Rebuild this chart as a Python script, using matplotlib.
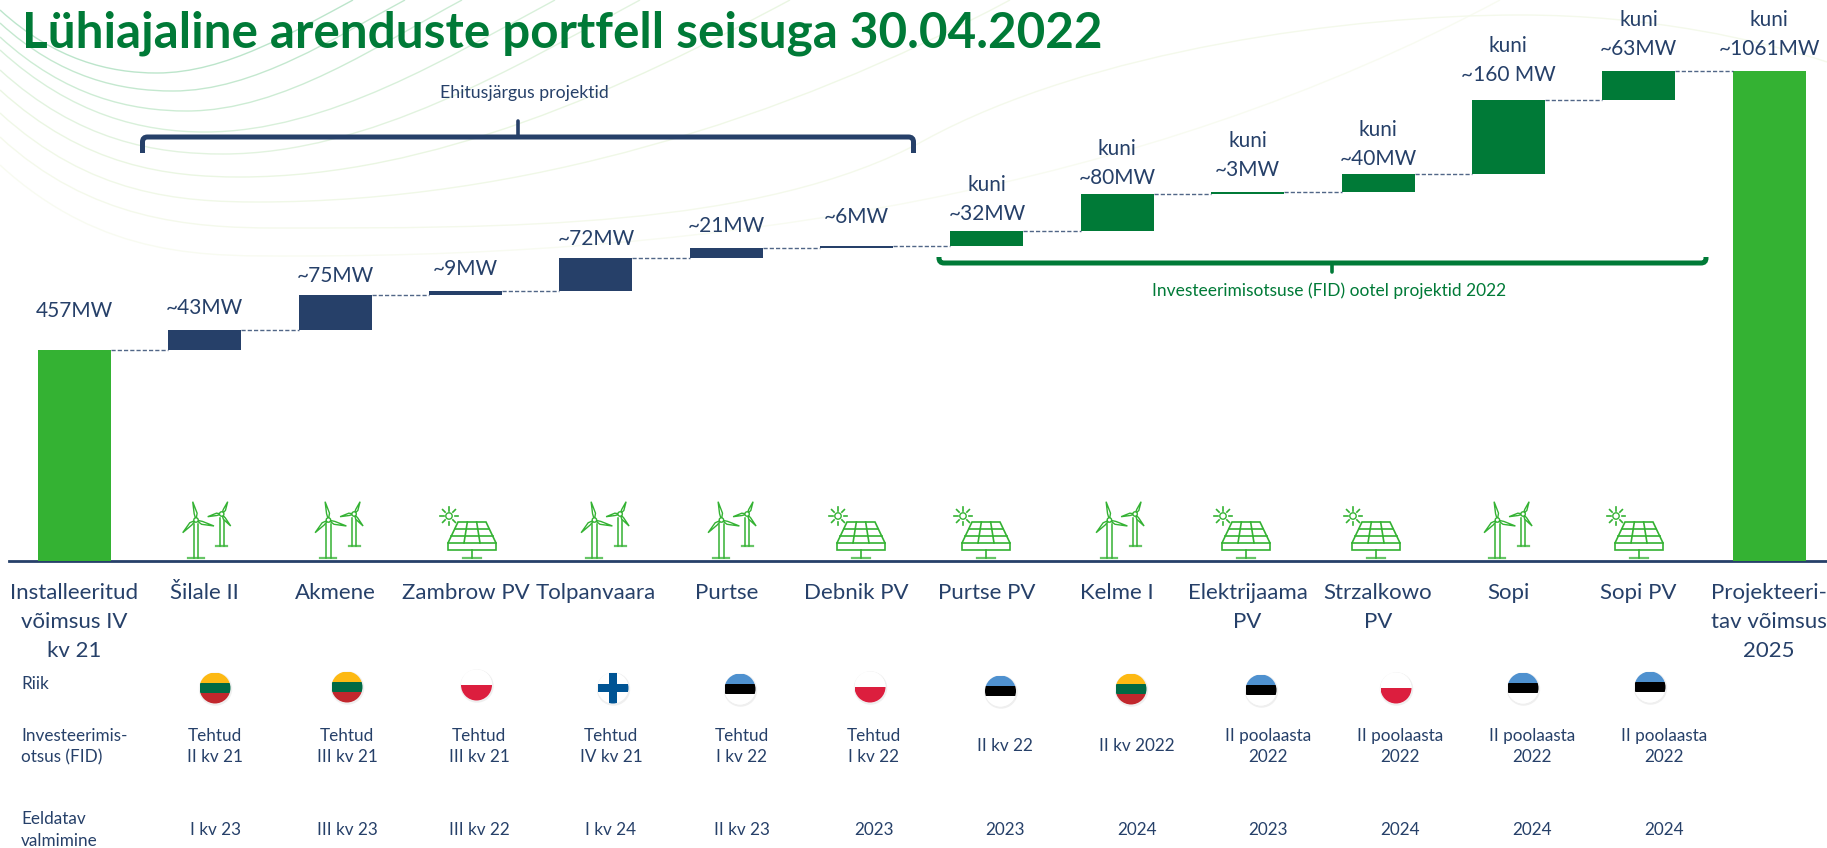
import matplotlib
matplotlib.use('Agg')
import matplotlib.pyplot as plt
from matplotlib.patches import Circle, Polygon, Rectangle, PathPatch
from matplotlib.path import Path
import numpy as np

plt.rcParams['font.family'] = ['Lato', 'DejaVu Sans']

W, H = 1827, 848
NAVY = '#264069'
GREEN = '#34B233'
DARK = '#007A37'

# chart data
names = ['Installeeritud\nvõimsus IV\nkv 21', 'Šilale II', 'Akmene', 'Zambrow PV', 'Tolpanvaara', 'Purtse',
         'Debnik PV', 'Purtse PV', 'Kelme I', 'Elektrijaama\nPV', 'Strzalkowo\nPV', 'Sopi', 'Sopi PV',
         'Projekteeri-\ntav võimsus\n2025']
values = [457, 43, 75, 9, 72, 21, 6, 32, 80, 3, 40, 160, 63, 1061]
labels = ['457MW', '~43MW', '~75MW', '~9MW', '~72MW', '~21MW', '~6MW', 'kuni\n~32MW', 'kuni\n~80MW', 'kuni\n~3MW',
          'kuni\n~40MW', 'kuni\n~160 MW', 'kuni\n~63MW', 'kuni\n~1061MW']
fid = ['Tehtud\nII kv 21', 'Tehtud\nIII kv 21', 'Tehtud\nIII kv 21', 'Tehtud\nIV kv 21', 'Tehtud\nI kv 22',
       'Tehtud\nI kv 22', 'II kv 22', 'II kv 2022', 'II poolaasta\n2022', 'II poolaasta\n2022',
       'II poolaasta\n2022', 'II poolaasta\n2022']
finish = ['I kv 23', 'III kv 23', 'III kv 22', 'I kv 24', 'II kv 23', '2023', '2023', '2024', '2023', '2024',
          '2024', '2024']
countries = ['LT', 'LT', 'PL', 'FI', 'EE', 'PL', 'EE', 'LT', 'EE', 'PL', 'EE', 'EE']
kinds = ['wind', 'wind', 'solar', 'wind', 'wind', 'solar', 'solar', 'wind', 'solar', 'solar', 'wind', 'solar']

# layout, in pixels
label_gap = [39, 22, 19, 22, 19, 22, 29, 17, 16, 22, 15, 25, 22, 22]
icon_x = [196.6, 329, 472, 595, 722, 861, 986, 1110, 1246, 1376, 1498, 1639]
flag_x = [215, 347, 476.5, 613, 740, 870, 1000.5, 1131, 1261, 1396, 1523, 1650]
flag_y = [688, 687, 685, 688, 689, 687, 691, 689, 690, 688, 688, 687]
row_x = [215, 347, 479, 611, 742, 874, 1005, 1137, 1268, 1400, 1532, 1664]

fig = plt.figure(figsize=(W / 100, H / 100), dpi=100)

# pixel axes for all the furniture
px = fig.add_axes([0, 0, 1, 1])
px.set_xlim(0, W)
px.set_ylim(H, 0)
px.axis('off')

# value axes, index on x and MW on y
PX_PER_MW = 490 / 1061
BASE = 561
STEP = 130.35
X0 = 74.5
ax = fig.add_axes([0, 0, 1, 1], facecolor='none')
ax.set_xlim(-X0 / STEP, (W - X0) / STEP)
ax.set_ylim(-(H - BASE) / PX_PER_MW, BASE / PX_PER_MW)
ax.axis('off')


def background():
    # the pale swooshes behind the title
    mins = [(157, 73), (173, 91), (187, 111), (205, 132), (223, 154), (240, 177), (258, 202), (297, 256)]
    left = [10, 23, 37, 50, 70, 90, 113, 165]
    ends = [353, 405, 462, 555, 640, 790, 1010, 1500]
    cols = ['#BCE5CB', '#C4E8CF', '#CDECD4', '#D8F0DA', '#E2F3DF', '#EAF6E2', '#F0F8E7', '#F8FBF1']
    for (mx, my), yl, ex, c in zip(mins, left, ends, cols):
        run = ex - mx
        verts = [(0, yl), (mx * 0.35, yl + mx * 0.32), (mx * 0.7, my), (mx, my),
                 (mx + run * 0.35, my), (ex - run * 0.3, run * 0.16), (ex, 0)]
        codes = [Path.MOVETO] + [Path.CURVE4] * 6
        px.add_patch(PathPatch(Path(verts, codes), fc='none', ec=c, lw=1.0))
    big = [(0, 137), (90, 220), (190, 228), (276, 228), (500, 228), (760, 230), (925, 140), (1090, 50), (1350, 15),
           (1520, 15), (1650, 15), (1760, 40), (1827, 62)]
    codes = [Path.MOVETO] + [Path.CURVE4] * 12
    px.add_patch(PathPatch(Path(big, codes), fc='none', ec='#F4F9EB', lw=1.0))


def turbine(x):
    # local coordinates come from the first icon, tower at x=196
    dx = x - 196.6
    c = GREEN
    for hub, tips, w, bottom, base_w, tower_w in [
        ((196, 520), [(192.7, 501.7), (214, 526), (182.7, 532.7)], 2.3, 558, 8, 2.2),
        ((221.7, 514), [(227.7, 501.7), (207.7, 516.7), (230.7, 526)], 1.8, 546, 5.5, 2),
    ]:
        hx, hy = hub[0] + dx, hub[1]
        px.plot([hx - tower_w, hx - tower_w], [hy + 4, bottom], color=c, lw=1.1)
        px.plot([hx + tower_w, hx + tower_w], [hy + 4, bottom], color=c, lw=1.1)
        px.plot([hx - base_w, hx + base_w], [bottom, bottom], color=c, lw=1.6, alpha=0.75)
        for tx, ty in tips:
            tx = tx + dx
            vx, vy = tx - hx, ty - hy
            n = np.hypot(vx, vy)
            ox, oy = -vy / n * w, vx / n * w
            mid = (hx + vx * 0.35, hy + vy * 0.35)
            px.add_patch(Polygon([(hx, hy), (mid[0] + ox, mid[1] + oy), (tx, ty), (mid[0] - ox * 0.3, mid[1] - oy * 0.3)],
                                 closed=True, fc='white', ec=c, lw=1.0, zorder=3))
        px.add_patch(Circle((hx, hy), 2.2, fc='white', ec=c, lw=1.0, zorder=4))


def panel(x):
    c = GREEN
    top, bot, strip = 522, 543, 550
    px.add_patch(Polygon([(x - 14, top), (x + 14, top), (x + 24, bot), (x + 24, strip), (x - 24, strip), (x - 24, bot)],
                         closed=True, fc='none', ec=c, lw=1.2))
    px.plot([x - 24, x + 24], [bot, bot], color=c, lw=1.2)
    for f in [1 / 3, 2 / 3]:
        y = top + (bot - top) * f
        half = 14 + 10 * f
        px.plot([x - half, x + half], [y, y], color=c, lw=1.2)
        px.plot([x - 14 + 28 * f, x - 24 + 48 * f], [top, bot], color=c, lw=1.2)
    px.plot([x, x], [strip, 558], color=c, lw=1.2)
    px.plot([x - 9, x + 9], [558, 558], color=c, lw=1.6, alpha=0.75)
    sx, sy = x - 23, 516
    px.add_patch(Circle((sx, sy), 3.2, fc='none', ec=c, lw=1.0))
    for a in np.arange(0, 360, 45):
        ca, sa = np.cos(np.radians(a)), np.sin(np.radians(a))
        px.plot([sx + 5.5 * ca, sx + 9 * ca], [sy + 5.5 * sa, sy + 9 * sa], color=c, lw=1.2)


def flag(x, y, code):
    r = 15.5
    clip = Circle((x, y), r, transform=px.transData)
    px.add_patch(Circle((x + 0.5, y + 1), r + 1.2, fc='#EFEFEF', ec='none', zorder=2))
    px.add_patch(Circle((x, y), r, fc='white', ec='none', zorder=2))
    bands = {'LT': ['#FDB913', '#006A44', '#C1272D'], 'EE': ['#4F91CF', '#000000', '#FFFFFF'],
             'PL': ['#FFFFFF', '#DC1E3E']}
    if code == 'FI':
        parts = [Rectangle((x - r, y - 4), 2 * r, 8, fc='#005494', ec='none', zorder=3),
                 Rectangle((x - 4, y - r), 8, 2 * r, fc='#005494', ec='none', zorder=3)]
    else:
        n = len(bands[code])
        h = 2 * r / n
        parts = [Rectangle((x - r, y - r + k * h), 2 * r, h + 0.3, fc=col, ec='none', zorder=3)
                 for k, col in enumerate(bands[code])]
    for p in parts:
        px.add_patch(p)
        p.set_clip_path(clip)


def bracket(x1, x2, xt, yline, yend, ytip, color):
    # curly bracket with rounded shoulders and a thin tip
    s = 1 if yend > yline else -1
    verts = [(x1, yend), (x1, yline + s * 5), (x1, yline), (x1 + 5, yline), (x2 - 5, yline), (x2, yline),
             (x2, yline + s * 5), (x2, yend)]
    codes = [Path.MOVETO, Path.LINETO, Path.CURVE3, Path.CURVE3, Path.LINETO, Path.CURVE3, Path.CURVE3, Path.LINETO]
    px.add_patch(PathPatch(Path(verts, codes), fc='none', ec=color, lw=3.6, capstyle='butt'))
    px.plot([xt, xt], [yline, ytip], color=color, lw=2.6, solid_capstyle='round')


background()

px.text(22, 47, 'Lühiajaline arenduste portfell seisuga 30.04.2022', fontsize=35.6, fontweight='bold', color=DARK,
        ha='left', va='baseline')

# waterfall bars
idx = np.arange(len(values))
bottoms = [0] + list(np.cumsum(values[:-2])) + [0]
colors = [GREEN] + [NAVY] * 6 + [DARK] * 6 + [GREEN]
ax.bar(idx, values, bottom=bottoms, width=73 / STEP, color=colors, linewidth=0)

tops = [b + v for b, v in zip(bottoms, values)]
for i in range(len(values) - 1):
    ax.plot([i + 36.5 / STEP, i + 1 - 36.5 / STEP], [tops[i], tops[i]], color=NAVY, lw=1.0,
            dashes=(3, 1.5), alpha=0.8)

# baseline
px.plot([9, W], [BASE, BASE], color=NAVY, lw=2.0, zorder=5)

# value labels
for i, lab in enumerate(labels):
    ypx = BASE - tops[i] * PX_PER_MW - label_gap[i]
    for k, line in enumerate(reversed(lab.split('\n'))):
        px.text(X0 + i * STEP, ypx - k * 29, line, fontsize=15, color=NAVY, ha='center', va='center')

# category names
for i, name in enumerate(names):
    for k, line in enumerate(name.split('\n')):
        px.text(X0 + i * STEP, 593 + k * 29, line, fontsize=16, color=NAVY, ha='center', va='center')

# brackets
bracket(142.5, 913.5, 518, 137, 153, 121, NAVY)
bracket(939, 1706, 1332, 263, 257, 272, DARK)
px.text(524, 93, 'Ehitusjärgus projektid', fontsize=12.7, color=NAVY, ha='center', va='center')
px.text(1329, 291, 'Investeerimisotsuse (FID) ootel projektid 2022', fontsize=12.5, color=DARK, ha='center', va='center')

# left hand row titles
for txt, y in [('Riik', 684), ('Investeerimis-', 736), ('otsus (FID)', 757), ('Eeldatav', 819), ('valmimine', 841)]:
    px.text(21, y, txt, fontsize=12.3, color=NAVY, ha='left', va='center')

# rows under the chart
for i in range(12):
    parts = fid[i].split('\n')
    if len(parts) == 2:
        px.text(row_x[i], 736, parts[0], fontsize=12.3, color=NAVY, ha='center', va='center')
        px.text(row_x[i], 757, parts[1], fontsize=12.3, color=NAVY, ha='center', va='center')
    else:
        px.text(row_x[i], 746, parts[0], fontsize=12.3, color=NAVY, ha='center', va='center')
    px.text(row_x[i], 830, finish[i], fontsize=12.3, color=NAVY, ha='center', va='center')
    flag(flag_x[i], flag_y[i], countries[i])
    if kinds[i] == 'wind':
        turbine(icon_x[i])
    else:
        panel(icon_x[i])

plt.savefig('out.png', dpi=100)
